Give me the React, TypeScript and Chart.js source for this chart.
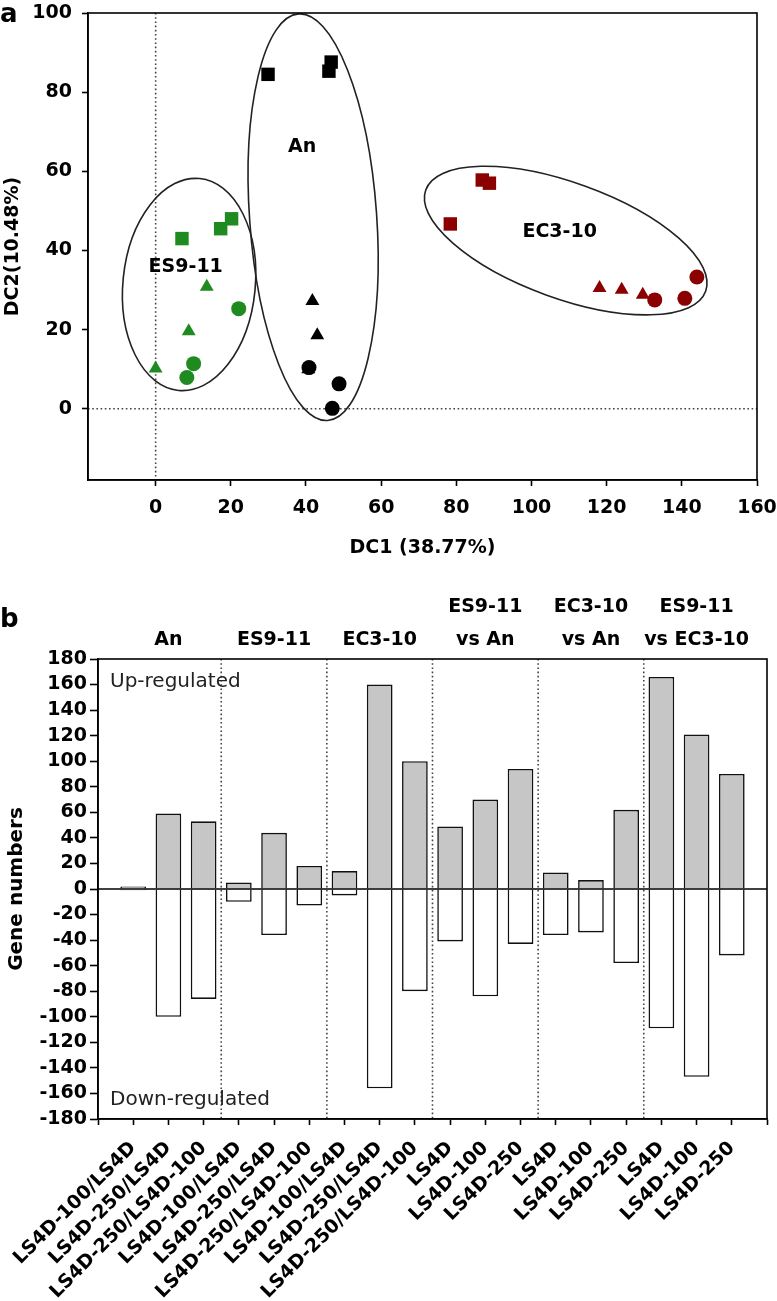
import React, { useEffect, useRef } from 'react';
import { Chart, registerables } from 'chart.js';
Chart.register(...registerables);

// ---------------- Panel a: discriminant scores ----------------
const dc1Ticks = [0, 20, 40, 60, 80, 100, 120, 140, 160];
const dc2Ticks = [0, 20, 40, 60, 80, 100];
const dc1Min = -18;
const dc1Max = 160;
const dc2Min = -18;
const dc2Max = 100;

const es911Squares = [[7, 43], [17.3, 45.5], [20.2, 48]];
const es911Triangles = [[13.6, 30.8], [8.8, 19.6], [0, 10.2]];
const es911Circles = [[22.1, 25.3], [10.1, 11.4], [8.3, 7.9]];
const anSquares = [[29.9, 84.5], [46.1, 85.3], [46.7, 87.6]];
const anTriangles = [[41.7, 27.2], [43, 18.6], [40.6, 10]];
const anCircles = [[40.8, 10.4], [48.8, 6.3], [47, 0.1]];
const ec310Squares = [[86.9, 57.8], [88.8, 57], [78.4, 46.7]];
const ec310Triangles = [[118.1, 30.5], [124, 30.1], [129.6, 28.8]];
const ec310Circles = [[132.8, 27.5], [140.8, 27.9], [144, 33.3]];

const clusterNames = ['ES9-11', 'An', 'EC3-10'];
const clusterCenters = [[8.9, 31.4], [41.9, 48.4], [109.1, 42.5]];
const clusterSemiAxes = [[17.6, 26.9], [16.9, 51.5], [39.6, 14.6]];
const clusterTiltDeg = [5.7, -4.1, 19.9];
const clusterLabelAt = [[8, 35.7], [39, 66], [107.5, 44.6]];

// ---------------- Panel b: gene numbers ----------------
const comparisonLabels = [
  'LS4D-100/LS4D', 'LS4D-250/LS4D', 'LS4D-250/LS4D-100',
  'LS4D-100/LS4D', 'LS4D-250/LS4D', 'LS4D-250/LS4D-100',
  'LS4D-100/LS4D', 'LS4D-250/LS4D', 'LS4D-250/LS4D-100',
  'LS4D', 'LS4D-100', 'LS4D-250',
  'LS4D', 'LS4D-100', 'LS4D-250',
  'LS4D', 'LS4D-100', 'LS4D-250',
];
const upRegulated = [2, 59, 53, 5, 44, 18, 14, 160, 100, 49, 70, 94, 13, 7, 62, 166, 121, 90];
const downRegulated = [-1, -100, -86, -10, -36, -13, -5, -156, -80, -41, -84, -43, -36, -34, -58, -109, -147, -52];
const groupHeaders = [['An'], ['ES9-11'], ['EC3-10'], ['ES9-11', 'vs An'], ['EC3-10', 'vs An'], ['ES9-11', 'vs EC3-10']];
const groupSizes = [3, 3, 3, 3, 3, 3];
const geneMin = -180;
const geneMax = 180;
const geneStep = 20;

const FONT = 'DejaVu Sans';
const GREEN = '#1f8a1f';
const RED = '#8b0000';
const BLACK = '#000000';

const toPts = (arr: number[][]) => arr.map(([x, y]) => ({ x, y }));

function makeSeries(label: string, arr: number[][], style: string, color: string, radius: number) {
  return {
    label,
    data: toPts(arr),
    pointStyle: style,
    pointRadius: radius,
    pointHoverRadius: radius,
    backgroundColor: color,
    borderColor: color,
    borderWidth: 0,
    showLine: false,
  };
}

function noPad(s: any) {
  s.paddingLeft = 0;
  s.paddingRight = 0;
  s.paddingTop = 0;
  s.paddingBottom = 0;
}

const panelAPlugin = {
  id: 'panelA',
  beforeDatasetsDraw(chart: any) {
    const { ctx, chartArea: a, scales } = chart;
    const xs = scales.x;
    const ys = scales.y;
    ctx.save();
    ctx.strokeStyle = '#444';
    ctx.lineWidth = 1.6;
    ctx.setLineDash([1.6, 2.6]);
    const x0 = xs.getPixelForValue(0);
    const y0 = ys.getPixelForValue(0);
    ctx.beginPath();
    ctx.moveTo(x0, a.top);
    ctx.lineTo(x0, a.bottom);
    ctx.moveTo(a.left, y0);
    ctx.lineTo(a.right, y0);
    ctx.stroke();
    ctx.setLineDash([]);
    ctx.strokeStyle = '#222';
    ctx.lineWidth = 1.6;
    clusterCenters.forEach((c, i) => {
      const cx = xs.getPixelForValue(c[0]);
      const cy = ys.getPixelForValue(c[1]);
      const rx = Math.abs(xs.getPixelForValue(c[0] + clusterSemiAxes[i][0]) - cx);
      const ry = Math.abs(ys.getPixelForValue(c[1] + clusterSemiAxes[i][1]) - cy);
      ctx.beginPath();
      ctx.ellipse(cx, cy, rx, ry, (clusterTiltDeg[i] * Math.PI) / 180, 0, Math.PI * 2);
      ctx.stroke();
    });
    ctx.restore();
  },
  afterDatasetsDraw(chart: any) {
    const { ctx, chartArea: a, scales } = chart;
    const xs = scales.x;
    const ys = scales.y;
    ctx.save();
    ctx.fillStyle = BLACK;
    ctx.font = `bold 19px "${FONT}"`;
    ctx.textAlign = 'center';
    ctx.textBaseline = 'middle';
    clusterNames.forEach((n, i) => {
      ctx.fillText(n, xs.getPixelForValue(clusterLabelAt[i][0]), ys.getPixelForValue(clusterLabelAt[i][1]));
    });
    ctx.strokeStyle = BLACK;
    ctx.lineWidth = 1.6;
    ctx.strokeRect(a.left, a.top, a.right - a.left, a.bottom - a.top);
    ctx.font = `bold 26px "${FONT}"`;
    ctx.textAlign = 'left';
    ctx.textBaseline = 'alphabetic';
    ctx.fillText('a', 0, 22);
    ctx.restore();
  },
};

const panelBPlugin = {
  id: 'panelB',
  beforeDatasetsDraw(chart: any) {
    const { ctx, chartArea: a, scales } = chart;
    const xs = scales.x;
    ctx.save();
    ctx.strokeStyle = '#444';
    ctx.lineWidth = 1.6;
    ctx.setLineDash([1.6, 2.6]);
    let idx = 1;
    for (let g = 0; g < groupSizes.length - 1; g++) {
      idx += groupSizes[g];
      const x = xs.getPixelForValue(idx - 0.5);
      ctx.beginPath();
      ctx.moveTo(x, a.top);
      ctx.lineTo(x, a.bottom);
      ctx.stroke();
    }
    ctx.setLineDash([]);
    ctx.fillStyle = '#222';
    ctx.font = `20px "${FONT}"`;
    ctx.textAlign = 'left';
    ctx.textBaseline = 'middle';
    ctx.fillText('Up-regulated', a.left + 12, a.top + 23);
    ctx.fillText('Down-regulated', a.left + 12, a.bottom - 19);
    ctx.restore();
  },
  afterDatasetsDraw(chart: any) {
    const { ctx, chartArea: a, scales } = chart;
    const xs = scales.x;
    const ys = scales.y;
    ctx.save();
    ctx.strokeStyle = BLACK;
    ctx.lineWidth = 1.6;
    const y0 = ys.getPixelForValue(0);
    ctx.beginPath();
    ctx.moveTo(a.left, y0);
    ctx.lineTo(a.right, y0);
    ctx.stroke();
    ctx.strokeRect(a.left, a.top, a.right - a.left, a.bottom - a.top);
    ctx.fillStyle = BLACK;
    ctx.font = `bold 19px "${FONT}"`;
    ctx.textAlign = 'center';
    ctx.textBaseline = 'middle';
    let start = 1;
    groupHeaders.forEach((lines, g) => {
      const mid = start + (groupSizes[g] - 1) / 2;
      const x = xs.getPixelForValue(mid);
      const n = lines.length;
      lines.forEach((t, k) => {
        ctx.fillText(t, x, a.top - 19 - (n - 1 - k) * 33);
      });
      start += groupSizes[g];
    });
    ctx.font = `bold 26px "${FONT}"`;
    ctx.textAlign = 'left';
    ctx.textBaseline = 'alphabetic';
    ctx.fillText('b', 0, 47);
    ctx.restore();
  },
};

export default function App() {
  const refA = useRef<HTMLCanvasElement>(null);
  const refB = useRef<HTMLCanvasElement>(null);

  useEffect(() => {
    const tickFont = { family: FONT, weight: 'bold' as const, size: 19 };
    const chartA = new Chart(refA.current as HTMLCanvasElement, {
      type: 'scatter',
      data: {
        datasets: [
          makeSeries('ES9-11 squares', es911Squares, 'rect', GREEN, 9.5),
          makeSeries('ES9-11 triangles', es911Triangles, 'triangle', GREEN, 8),
          makeSeries('ES9-11 circles', es911Circles, 'circle', GREEN, 7.5),
          makeSeries('An squares', anSquares, 'rect', BLACK, 9.5),
          makeSeries('An triangles', anTriangles, 'triangle', BLACK, 8),
          makeSeries('An circles', anCircles, 'circle', BLACK, 7.5),
          makeSeries('EC3-10 squares', ec310Squares, 'rect', RED, 9.5),
          makeSeries('EC3-10 triangles', ec310Triangles, 'triangle', RED, 8),
          makeSeries('EC3-10 circles', ec310Circles, 'circle', RED, 7.5),
        ] as any,
      },
      options: {
        responsive: false,
        animation: false,
        layout: { padding: { left: 0, top: 13, right: 20, bottom: 0 } },
        plugins: { legend: { display: false }, tooltip: { enabled: false } },
        scales: {
          x: {
            type: 'linear',
            min: dc1Min,
            max: dc1Max,
            afterBuildTicks: (s: any) => { s.ticks = dc1Ticks.map((v) => ({ value: v })); },
            afterFit: (s: any) => { s.height = 95; noPad(s); },
            grid: { drawOnChartArea: false, drawTicks: true, tickLength: 6, tickColor: BLACK, tickWidth: 1.6 },
            border: { display: true, color: BLACK, width: 1.6 },
            ticks: { color: BLACK, font: tickFont, padding: 11, maxRotation: 0, autoSkip: false },
            title: { display: true, text: 'DC1 (38.77%)', color: BLACK, font: tickFont, padding: { top: 0, bottom: 16 } },
          },
          y: {
            type: 'linear',
            min: dc2Min,
            max: dc2Max,
            afterBuildTicks: (s: any) => { s.ticks = dc2Ticks.map((v) => ({ value: v })); },
            afterFit: (s: any) => { s.width = 88; noPad(s); },
            grid: { drawOnChartArea: false, drawTicks: true, tickLength: 6, tickColor: BLACK, tickWidth: 1.6 },
            border: { display: true, color: BLACK, width: 1.6 },
            ticks: { color: BLACK, font: tickFont, padding: 10, autoSkip: false },
            title: { display: true, text: 'DC2(10.48%)', color: BLACK, font: tickFont, padding: { top: 2, bottom: 0 } },
          },
        },
      } as any,
      plugins: [panelAPlugin],
    });

    const chartB = new Chart(refB.current as HTMLCanvasElement, {
      type: 'bar',
      data: {
        labels: ['', ...comparisonLabels, ''],
        datasets: [
          {
            label: 'Up-regulated',
            data: [null, ...upRegulated, null],
            backgroundColor: '#c6c6c6',
            borderColor: '#111',
            borderWidth: 1.6,
            borderSkipped: 'start',
            barPercentage: 0.73,
            categoryPercentage: 1,
          },
          {
            label: 'Down-regulated',
            data: [null, ...downRegulated, null],
            backgroundColor: '#ffffff',
            borderColor: '#111',
            borderWidth: 1.6,
            borderSkipped: 'start',
            barPercentage: 0.73,
            categoryPercentage: 1,
          },
        ] as any,
      },
      options: {
        responsive: false,
        animation: false,
        layout: { padding: { left: 0, top: 79, right: 10, bottom: 0 } },
        plugins: { legend: { display: false }, tooltip: { enabled: false } },
        scales: {
          x: {
            stacked: true,
            offset: false,
            afterFit: (s: any) => { s.height = 182; noPad(s); },
            grid: { offset: false, drawOnChartArea: false, drawTicks: true, tickLength: 6, tickColor: BLACK, tickWidth: 1.6 },
            border: { display: true, color: BLACK, width: 1.6 },
            ticks: { color: BLACK, font: tickFont, padding: 12, minRotation: 45, maxRotation: 45, autoSkip: false },
          },
          y: {
            stacked: true,
            min: geneMin,
            max: geneMax,
            afterFit: (s: any) => { s.width = 98; noPad(s); },
            grid: { drawOnChartArea: false, drawTicks: true, tickLength: 8, tickColor: BLACK, tickWidth: 1.6 },
            border: { display: true, color: BLACK, width: 1.6 },
            ticks: { color: BLACK, font: tickFont, padding: 3, stepSize: geneStep, autoSkip: false },
            title: { display: true, text: 'Gene numbers', color: BLACK, font: { family: FONT, weight: 'bold', size: 20 }, padding: { top: 5, bottom: 0 } },
          },
        },
      } as any,
      plugins: [panelBPlugin],
    });

    return () => {
      chartA.destroy();
      chartB.destroy();
    };
  }, []);

  return (
    <div style={{ position: 'absolute', left: 0, top: 0, width: 777, height: 1301, background: '#fff' }}>
      <canvas ref={refA} width={777} height={575} style={{ position: 'absolute', left: 0, top: 0 }} />
      <canvas ref={refB} width={777} height={721} style={{ position: 'absolute', left: 0, top: 580 }} />
    </div>
  );
}
